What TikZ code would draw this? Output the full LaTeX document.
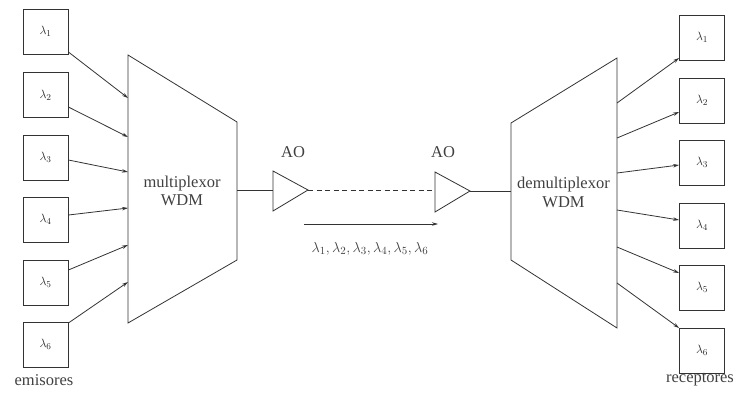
\documentclass[tikz,border=0pt]{standalone}
\usepackage{fontspec}
\setmainfont{Liberation Serif}
\usetikzlibrary{arrows.meta}
\begin{document}
\begin{tikzpicture}[x=1pt,y=-1pt,
  ln/.style={draw=black!80,line width=0.8pt},
  arr/.style={ln,-{Stealth[length=6pt,width=3.5pt]}},
  chan/.style={ln,minimum width=45pt,minimum height=45pt,inner sep=0pt,text=black!85,font=\fontsize{13}{15}\selectfont},
  lbl/.style={font=\fontsize{16.5}{18.5}\selectfont,inner sep=0pt,text=black!75,align=center}]
\useasboundingbox (0,0) rectangle (735,408);

% transmitters
\foreach \i/\y in {1/31.5,2/95,3/157.5,4/219.5,5/282.5,6/344.5}
  \node[chan] (l\i) at (45.5,\y) {$\lambda_{\i}$};
\node[lbl] (em) at (44,380) {emisores};

% multiplexer body
\draw[ln] (128,55) -- (237,122) -- (237,260) -- (128,323) -- cycle;
\node[lbl] (mux) at (182,191) {multiplexor\\WDM};
\foreach \i/\y in {1/98,2/137,3/172,4/208,5/245,6/282}
  \coordinate (m\i) at (128,\y);
\foreach \i/\d in {1/-20.5,2/-12,3/-2.5,4/4.5,5/12.5,6/21.5}
  \draw[arr] ([yshift=\d pt]l\i.east) -- (m\i);

% amplifiers
\coordinate (mo) at (237,190);
\draw[ln] (273,171) -- (308,190) -- (273,211) -- cycle;
\coordinate (a1in) at (273,190);
\coordinate (a1out) at (308,190);
\node[lbl] (ao1) at (293,152) {AO};
\draw[ln] (435,172) -- (470,191) -- (435,212) -- cycle;
\coordinate (a2in) at (435,191);
\coordinate (a2out) at (470,191);
\node[lbl] (ao2) at (443,152) {AO};
\draw[ln] (mo) -- (a1in);
\draw[ln,dashed,dash pattern=on 5pt off 3.5pt] (a1out) -- (a2in |- a1out);
\coordinate (do) at (511,191);
\draw[ln] (a2out) -- (do);

% direction of propagation
\coordinate (p0) at (304,224);
\coordinate (p1) at (438,224);
\draw[arr] (p0) -- (p1);
\node[lbl,font=\fontsize{15}{17}\selectfont] (wl) at (370,249) {$\lambda_1,\lambda_2,\lambda_3,\lambda_4,\lambda_5,\lambda_6$};

% demultiplexer body
\draw[ln] (511,123) -- (617,58) -- (617,328) -- (511,260) -- cycle;
\node[lbl] (dmx) at (563.5,192.5) {demultiplexor\\WDM};
\foreach \i/\y in {1/103,2/138,3/173,4/210,5/247,6/283}
  \coordinate (d\i) at (617,\y);

% receivers
\foreach \i/\y in {1/37.5,2/100.5,3/162.5,4/225.5,5/287.5,6/350.5}
  \node[chan] (r\i) at (702,\y) {$\lambda_{\i}$};
\node[lbl] (rc) at (700,380) {receptores};
\foreach \i/\d in {1/-20.5,2/-11.5,3/-2.5,4/5.5,5/14.5,6/22.5}
  \draw[arr] (d\i) -- ([yshift=\d pt]r\i.west);
\end{tikzpicture}
\end{document}
